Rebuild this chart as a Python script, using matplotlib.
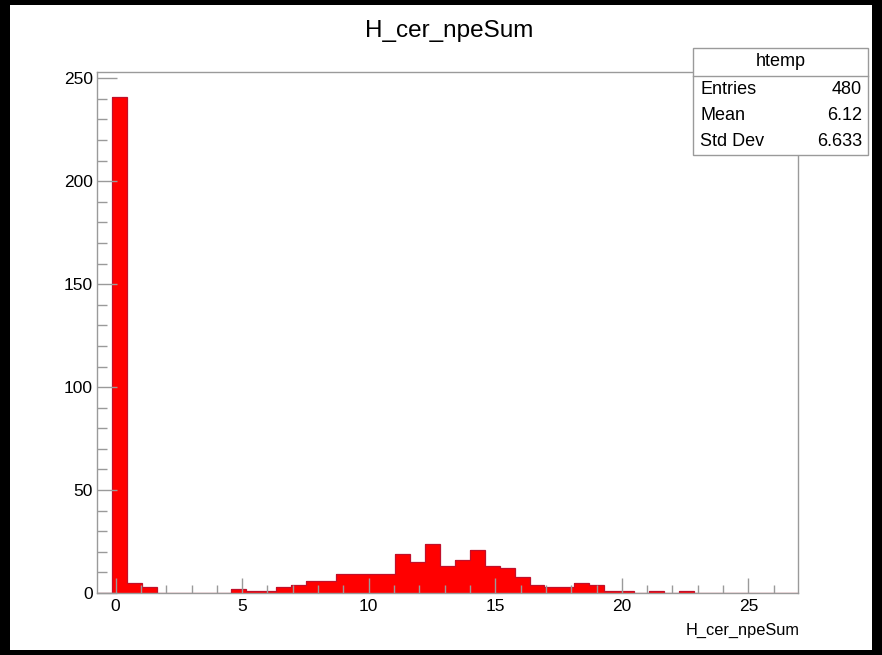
import numpy as np
import matplotlib
matplotlib.use("Agg")
import matplotlib.pyplot as plt
from matplotlib.patches import Rectangle
from matplotlib.lines import Line2D
from matplotlib.ticker import MultipleLocator

plt.rcParams["font.family"] = ["Liberation Sans", "DejaVu Sans"]

# Histogram binning and contents
x_min = -0.736
x_max = 26.96
n_bins = 47
counts = [0, 241, 5, 3, 0, 0, 0, 0, 0, 2, 1, 1, 3, 4, 6, 6, 9, 9, 9, 9,
          19, 15, 24, 13, 16, 21, 13, 12, 8, 4, 3, 3, 5, 4, 1, 1, 0, 1, 0, 1,
          0, 0, 0, 0, 0, 0, 0]
x_ticks = [0, 5, 10, 15, 20, 25]
y_ticks = [0, 50, 100, 150, 200, 250]

title = "H_cer_npeSum"
x_label = "H_cer_npeSum"
stats_name = "htemp"
stats_rows = [("Entries", "480"), ("Mean", "6.12"), ("Std Dev", "6.633")]

W, H = 882, 655
fig = plt.figure(figsize=(W / 100, H / 100), dpi=100, facecolor="black")

# white canvas inside the dark border
fig.patches.append(Rectangle((10 / W, 1 - 650 / H), 862 / W, 645 / H,
                             transform=fig.transFigure, facecolor="white",
                             edgecolor="none", zorder=-10))

ax_l, ax_r, ax_t, ax_b = 97, 798, 72, 593
ax = fig.add_axes([ax_l / W, 1 - ax_b / H, (ax_r - ax_l) / W, (ax_b - ax_t) / H])
ax.set_zorder(1)
ax.set_facecolor("white")

edges = np.linspace(x_min, x_max, n_bins + 1)
ax.stairs(counts, edges, fill=True, color="#ff0000", zorder=1)
ax.stairs(counts, edges, fill=False, color="#c0102a", linewidth=0.9, zorder=1.1)

ax.set_xlim(x_min, x_max)
ax.set_ylim(0, 1.05 * max(counts))

frame_col = "#9a9a9a"
for s in ax.spines.values():
    s.set_color(frame_col)
    s.set_linewidth(1.0)

ax.set_xticks(x_ticks)
ax.set_yticks(y_ticks)
ax.xaxis.set_minor_locator(MultipleLocator(1))
ax.yaxis.set_minor_locator(MultipleLocator(10))
ax.tick_params(which="both", direction="in", color=frame_col, width=1.0,
               top=False, right=False, labelsize=12.5, labelcolor="black")
ax.xaxis.set_tick_params(which="major", length=10.8, pad=4)
ax.xaxis.set_tick_params(which="minor", length=5.5)
ax.yaxis.set_tick_params(which="major", length=14.4, pad=3)
ax.yaxis.set_tick_params(which="minor", length=7.2)

fig.text(449 / W, 1 - 31 / H, title, ha="center", va="center", fontsize=17.5)
fig.text(800 / W, 1 - 630 / H, x_label, ha="right", va="center", fontsize=11.8)

# statistics box
bx0, bx1, by0, by1, sep = 693, 868, 48, 155, 76
fig.patches.append(Rectangle((bx0 / W, 1 - by1 / H), (bx1 - bx0) / W, (by1 - by0) / H,
                             transform=fig.transFigure, facecolor="white",
                             edgecolor=frame_col, linewidth=1.0, zorder=5))
fig.lines.append(Line2D([bx0 / W, bx1 / W], [1 - sep / H, 1 - sep / H],
                        transform=fig.transFigure, color=frame_col, linewidth=1.0, zorder=6))
fig.text((bx0 + bx1) / 2 / W, 1 - 62 / H, stats_name, ha="center", va="center",
         fontsize=13, zorder=7)
for i, (name, val) in enumerate(stats_rows):
    yy = 1 - (89 + 26 * i) / H
    fig.text(700 / W, yy, name, ha="left", va="center", fontsize=13, zorder=7)
    fig.text(862 / W, yy, val, ha="right", va="center", fontsize=13, zorder=7)

fig.savefig("out.png", dpi=100, facecolor="black")
